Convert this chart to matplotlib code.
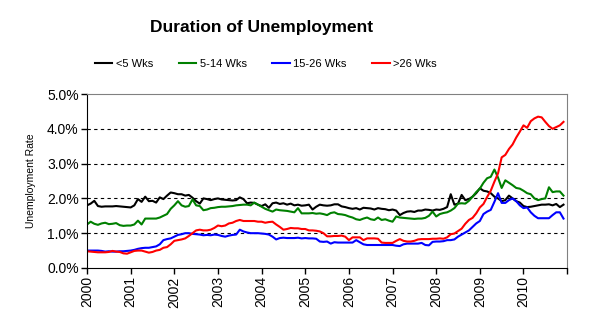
import numpy as np
import matplotlib
matplotlib.use("Agg")
import matplotlib.pyplot as plt

plt.rcParams['font.family'] = ['Liberation Sans', 'DejaVu Sans']

# monthly unemployment rate by duration, % of labor force, Jan 2000 - Dec 2010
under5 = [
    1.80, 1.85, 1.93, 1.78, 1.76, 1.77, 1.77, 1.77, 1.78, 1.77, 1.76, 1.75,
    1.74, 1.80, 1.98, 1.90, 2.05, 1.92, 1.93, 1.88, 2.03, 1.98, 2.08, 2.17,
    2.15, 2.12, 2.12, 2.08, 2.10, 2.02, 1.92, 1.85, 2.00, 1.98, 1.95, 1.98,
    2.00, 1.97, 1.96, 1.95, 1.94, 1.95, 2.03, 1.98, 1.86, 1.88, 1.87, 1.82,
    1.78, 1.83, 1.73, 1.86, 1.88, 1.84, 1.86, 1.82, 1.85, 1.80, 1.82, 1.79,
    1.80, 1.82, 1.68, 1.76, 1.82, 1.80, 1.79, 1.80, 1.83, 1.83, 1.77, 1.75,
    1.72, 1.70, 1.72, 1.68, 1.73, 1.72, 1.71, 1.68, 1.72, 1.70, 1.69, 1.66,
    1.68, 1.65, 1.52, 1.58, 1.62, 1.63, 1.61, 1.65, 1.65, 1.68, 1.67, 1.65,
    1.68, 1.67, 1.70, 1.75, 2.12, 1.82, 1.85, 2.10, 1.95, 1.98, 2.05, 2.15,
    2.29, 2.22, 2.20, 2.15, 2.05, 2.00, 1.92, 1.95, 2.08, 2.00, 1.92, 1.88,
    1.78, 1.75, 1.76, 1.78, 1.80, 1.82, 1.82, 1.83, 1.80, 1.84, 1.75, 1.82,
]
wk5_14 = [
    1.25, 1.33, 1.27, 1.24, 1.28, 1.30, 1.26, 1.27, 1.29, 1.23, 1.21, 1.22,
    1.22, 1.25, 1.36, 1.25, 1.42, 1.42, 1.42, 1.42, 1.45, 1.50, 1.55, 1.70,
    1.80, 1.92, 1.80, 1.76, 1.78, 1.97, 1.80, 1.78, 1.66, 1.68, 1.72, 1.73,
    1.75, 1.76, 1.76, 1.77, 1.78, 1.80, 1.81, 1.82, 1.82, 1.80, 1.88, 1.82,
    1.76, 1.70, 1.66, 1.62, 1.68, 1.66, 1.65, 1.64, 1.62, 1.60, 1.72, 1.57,
    1.57, 1.57, 1.58, 1.56, 1.57, 1.55, 1.52, 1.58, 1.60, 1.55, 1.54, 1.52,
    1.48, 1.45, 1.40, 1.38, 1.42, 1.45, 1.40, 1.38, 1.45, 1.38, 1.40, 1.36,
    1.33, 1.48, 1.45, 1.44, 1.43, 1.42, 1.41, 1.42, 1.42, 1.44, 1.50, 1.62,
    1.48, 1.55, 1.58, 1.60, 1.65, 1.72, 1.85, 1.86, 1.85, 1.93, 2.05, 2.18,
    2.28, 2.45, 2.58, 2.62, 2.83, 2.60, 2.30, 2.52, 2.45, 2.38, 2.30, 2.28,
    2.22, 2.15, 2.12, 2.00, 1.95, 1.98, 2.00, 2.32, 2.18, 2.20, 2.20, 2.08,
]
wk15_26 = [
    0.50, 0.50, 0.50, 0.50, 0.49, 0.47, 0.48, 0.47, 0.47, 0.48, 0.48, 0.49,
    0.50, 0.52, 0.55, 0.57, 0.58, 0.58, 0.60, 0.62, 0.68, 0.80, 0.83, 0.85,
    0.90, 0.95, 0.97, 1.00, 1.00, 0.98, 0.97, 0.96, 0.94, 0.95, 0.94, 0.96,
    0.95, 0.92, 0.90, 0.93, 0.95, 0.96, 1.10, 1.05, 1.02, 1.00, 1.00, 1.00,
    0.99, 0.98, 0.96, 0.90, 0.82, 0.86, 0.87, 0.86, 0.86, 0.86, 0.87, 0.85,
    0.86, 0.85, 0.85, 0.84, 0.76, 0.75, 0.76, 0.70, 0.74, 0.73, 0.73, 0.73,
    0.73, 0.73, 0.80, 0.74, 0.68, 0.66, 0.66, 0.66, 0.66, 0.66, 0.66, 0.66,
    0.66, 0.64, 0.63, 0.68, 0.70, 0.70, 0.70, 0.70, 0.72, 0.66, 0.65, 0.75,
    0.76, 0.76, 0.77, 0.80, 0.80, 0.82, 0.90, 0.96, 1.02, 1.08, 1.18, 1.28,
    1.35, 1.55, 1.62, 1.67, 1.90, 2.15, 1.87, 1.87, 1.95, 2.00, 1.92, 1.80,
    1.72, 1.74, 1.60, 1.50, 1.43, 1.43, 1.43, 1.43, 1.52, 1.60, 1.60, 1.42,
]
over26 = [
    0.48, 0.47, 0.46, 0.45, 0.45, 0.45, 0.46, 0.49, 0.47, 0.46, 0.42, 0.41,
    0.45, 0.49, 0.50, 0.50, 0.47, 0.44, 0.46, 0.50, 0.52, 0.58, 0.60, 0.68,
    0.78, 0.80, 0.82, 0.85, 0.92, 1.00, 1.08, 1.10, 1.08, 1.08, 1.10, 1.15,
    1.22, 1.20, 1.22, 1.28, 1.30, 1.35, 1.38, 1.35, 1.35, 1.35, 1.35, 1.33,
    1.33, 1.30, 1.32, 1.33, 1.25, 1.18, 1.10, 1.12, 1.15, 1.14, 1.14, 1.12,
    1.12, 1.08, 1.08, 1.07, 1.05, 1.00, 0.91, 0.91, 0.92, 0.92, 0.93, 0.90,
    0.80, 0.88, 0.88, 0.88, 0.80, 0.85, 0.85, 0.85, 0.84, 0.73, 0.72, 0.72,
    0.72, 0.78, 0.83, 0.78, 0.76, 0.76, 0.78, 0.82, 0.83, 0.83, 0.83, 0.84,
    0.84, 0.85, 0.84, 0.88, 0.97, 0.99, 1.06, 1.13, 1.27, 1.38, 1.44, 1.57,
    1.74, 1.84, 2.04, 2.22, 2.48, 2.72, 3.18, 3.25, 3.42, 3.55, 3.75, 3.92,
    4.10, 4.03, 4.22, 4.30, 4.35, 4.33, 4.20, 4.08, 4.00, 4.05, 4.10, 4.20,
]

labels = ['<5 Wks', '5-14 Wks', '15-26 Wks', '>26 Wks']
colors = ['black', 'green', 'blue', 'red']
years = list(range(2000, 2012))

x = 2000 + np.arange(len(under5)) / 12.0

fig = plt.figure(figsize=(5.92, 3.30), dpi=100)
ax = fig.add_axes([0.147, 0.188, 0.811, 0.527])

for series, lab, col in zip([under5, wk5_14, wk15_26, over26], labels, colors):
    ax.plot(x, series, color=col, lw=1.5, label=lab)

ax.set_xlim(2000, 2011)
ax.set_ylim(0, 5)

ax.set_yticks([0, 1, 2, 3, 4, 5])
ax.set_yticklabels(['%.1f%%' % v for v in range(6)], fontsize=10)
ax.set_xticks(years)
ax.set_xticklabels([str(y) if y < 2011 else '' for y in years], rotation=90, fontsize=10)
ax.tick_params(axis='both', direction='out', length=4, width=1, pad=2)

for v in [1, 2, 3, 4]:
    ax.axhline(v, color='black', lw=0.8, ls=(0, (3, 3)), zorder=0)

ax.spines['top'].set_color('#808080')
ax.spines['right'].set_color('#808080')
ax.spines['left'].set_color('black')
ax.spines['bottom'].set_color('black')

ax.set_ylabel('Unemployment Rate', fontsize=7.5, labelpad=8)

fig.text(0.441, 0.918, 'Duration of Unemployment', fontsize=12.5, fontweight='bold',
         ha='center', va='center')

handles, labs = ax.get_legend_handles_labels()
fig.legend(handles, labs, loc='center', bbox_to_anchor=(0.449, 0.806), ncol=4,
           frameon=False, fontsize=8, handlelength=1.6, handletextpad=0.3,
           columnspacing=2.3)

fig.savefig('out.png', dpi=100)
